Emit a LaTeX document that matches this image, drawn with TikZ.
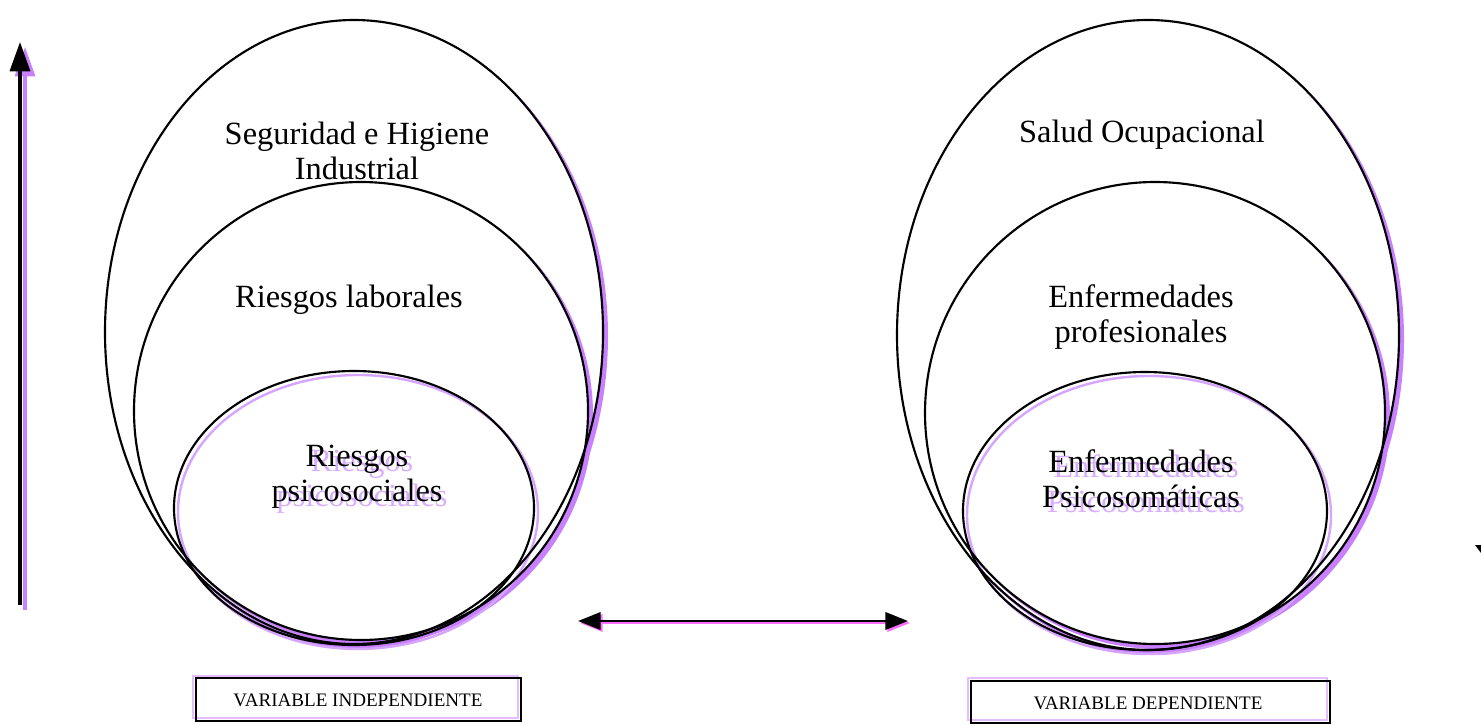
\documentclass[tikz,border=0pt]{standalone}
\usepackage{fontspec}
\setmainfont{Liberation Serif}
\usetikzlibrary{arrows.meta,calc}
\definecolor{shadowviolet}{RGB}{200,128,255}
\definecolor{innershadow}{RGB}{214,165,255}
\definecolor{textshadow}{RGB}{216,174,255}
\definecolor{boxshadow}{RGB}{230,190,255}
\definecolor{arrowshadow}{RGB}{255,110,255}
\tikzset{
  ring/.style={draw=black, line width=1.6},
  ringfill/.style={fill=white},
  ringshadow/.style={fill=shadowviolet},
  innerringshadow/.style={draw=innershadow, line width=1.8},
  bigtext/.style={font=\fontsize{24.3pt}{26.25pt}\selectfont, align=center, inner sep=0pt},
  bigshadow/.style={bigtext, text=textshadow},
  smalltext/.style={font=\fontsize{14.3pt}{16pt}\selectfont, inner sep=0pt},
  varbox/.style={draw=black, line width=1.2},
  varboxshadow/.style={draw=boxshadow, line width=1.5},
  bigarrow/.style={line width=2.6, -{Triangle[length=22, width=15]}},
  dblarrow/.style={line width=2, {Triangle[length=17, width=13]}-{Triangle[length=17, width=13]}},
}
\begin{document}
\begin{tikzpicture}[x=0.75pt, y=-0.75pt]
\useasboundingbox (0,0) rectangle (1481,725);
% ---------- centres ----------
\coordinate (LO) at (354,332);
\coordinate (LM) at (361,411);
\coordinate (LI) at (354,508);
\coordinate (RO) at (1148,335);
\coordinate (RM) at (1155,413);
\coordinate (RI) at (1145,511);
% ---------- left ellipses: shadows and fills ----------
\fill[ringshadow] ($(LO)+(4,4)$) ellipse (250 and 313);
\fill[ringfill] (LO) ellipse (249 and 312);
\fill[ringshadow] ($(LM)+(4,4)$) ellipse (228 and 230);
\fill[ringfill] (LM) ellipse (227 and 229);
\draw[innerringshadow] ($(LI)+(4,4)$) ellipse (180 and 137);
% ---------- right ellipses: shadows and fills ----------
\fill[ringshadow] ($(RO)+(4,4)$) ellipse (252 and 316);
\fill[ringfill] (RO) ellipse (251 and 315);
\fill[ringshadow] ($(RM)+(4,4)$) ellipse (231 and 232);
\fill[ringfill] (RM) ellipse (230 and 231);
\draw[innerringshadow] ($(RI)+(4,4)$) ellipse (182 and 139);
% ---------- outlines ----------
\draw[ring] (LO) ellipse (249 and 312);
\draw[ring] (LM) ellipse (227 and 229);
\draw[ring] (LI) ellipse (180 and 137);
\draw[ring] (RO) ellipse (251 and 315);
\draw[ring] (RM) ellipse (230 and 231);
\draw[ring] (RI) ellipse (182 and 139);
% ---------- texts ----------
\node[bigtext] (t1) at (357,151) {Seguridad e Higiene\\Industrial};
\node[bigtext] (t2) at (349,300) {Riesgos laborales};
\node[bigshadow] (t3s) at (362,482) {Riesgos\\psicosociales};
\node[bigtext] (t3) at (357,477) {Riesgos\\psicosociales};
\node[bigtext] (t4) at (1142,135) {Salud Ocupacional};
\node[bigtext] (t5) at (1141,317) {Enfermedades\\profesionales};
\node[bigshadow] (t6s) at (1146,484) {Enfermedades\\Psicosomáticas};
\node[bigtext] (t6) at (1141,479) {Enfermedades\\Psicosomáticas};
% ---------- vertical arrow ----------
\coordinate (va) at (20,605);
\coordinate (vb) at (20,42);
\coordinate (vas) at (25,610);
\coordinate (vbs) at (25,47);
\draw[bigarrow, draw=shadowviolet, fill=shadowviolet] (vas) -- (vbs);
\draw[bigarrow] (va) -- (vb);
% ---------- horizontal arrow ----------
\coordinate (ha) at (578,621);
\coordinate (hb) at (908,621);
\coordinate (has) at (580,623);
\coordinate (hbs) at (910,623);
\draw[dblarrow, draw=arrowshadow, fill=arrowshadow] (has) -- (hbs);
\draw[dblarrow] (ha) -- (hb);
% ---------- boxes ----------
\draw[varboxshadow] (193,676) rectangle (518,718);
\draw[varbox] (196,678) rectangle (521,721);
\node[smalltext] (vi) at (358,700) {VARIABLE INDEPENDIENTE};
\draw[varboxshadow] (968,678) rectangle (1327,720);
\draw[varbox] (971,681) rectangle (1330,723);
\node[smalltext] (vd) at (1148,703) {VARIABLE DEPENDIENTE};
% ---------- cut-off mark at right edge ----------
\fill[black] (1475,545) -- (1481,545) -- (1481,553) -- cycle;
\end{tikzpicture}
\end{document}
